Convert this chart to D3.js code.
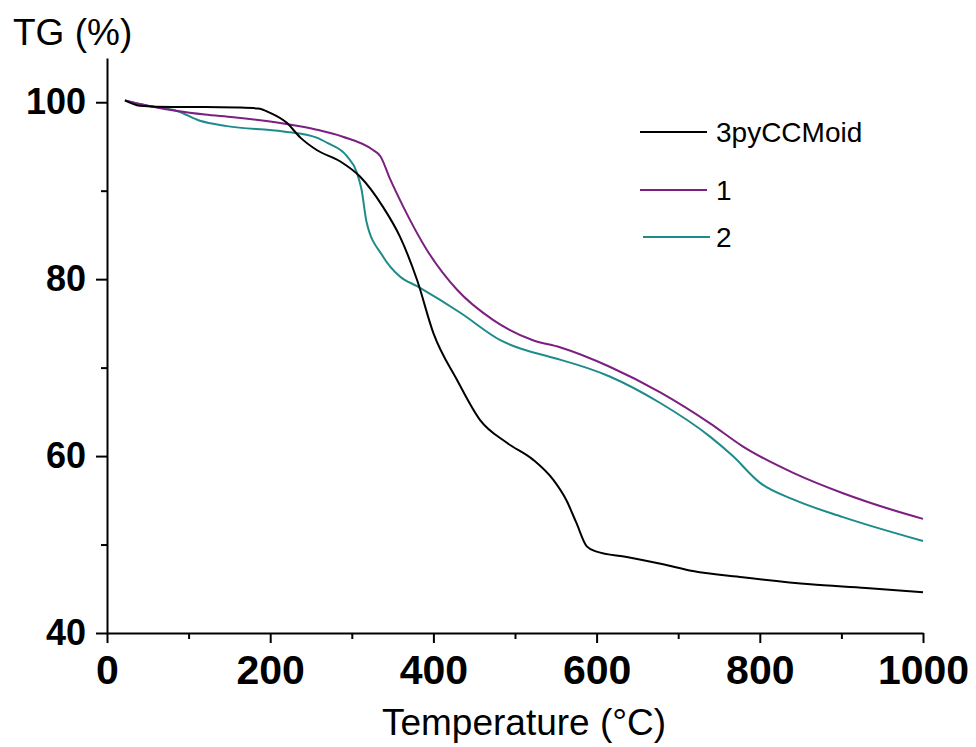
<!DOCTYPE html>
<html>
<head>
<meta charset="utf-8">
<script src="https://cdn.jsdelivr.net/npm/d3@7"></script>
<style>
  body { margin: 0; background: #fff; }
  svg text { font-family: Arial, "Liberation Sans", sans-serif; }
</style>
</head>
<body>
<div id="chart"></div>
<script>
// TG curves (temperature in C, mass in %)
const seriesNames = ["3pyCCMoid", "1", "2"];
const seriesColors = ["#000000", "#7b1f80", "#1e8b8b"];

const tempA = [22, 40, 80, 120, 160, 185, 200, 220, 237, 257, 286, 310, 338, 359, 380, 400, 429, 457, 490, 522, 547, 563, 575, 588, 600, 637, 680, 718, 779, 862, 930, 1000];
const tgA   = [100.2, 99.6, 99.45, 99.45, 99.4, 99.3, 98.8, 97.7, 96.0, 94.6, 93.3, 91.6, 88.2, 84.8, 79.9, 73.9, 68.6, 64.1, 61.5, 59.6, 57.3, 55.0, 52.5, 49.8, 49.2, 48.6, 47.8, 47.0, 46.3, 45.5, 45.1, 44.6];

const temp1 = [22, 50, 86, 120, 155, 216, 257, 289, 326, 335, 347, 363, 392, 429, 473, 522, 555, 616, 678, 739, 779, 841, 902, 963, 1000];
const tg1   = [100.2, 99.6, 99.0, 98.6, 98.3, 97.6, 96.9, 96.1, 94.6, 93.9, 91.3, 88.2, 83.3, 78.8, 75.4, 73.1, 72.3, 70.1, 67.2, 63.7, 61.1, 58.1, 55.8, 53.9, 52.9];

const temp2 = [22, 50, 86, 114, 147, 216, 257, 270, 294, 306, 312, 318, 338, 359, 380, 433, 482, 543, 555, 616, 678, 739, 767, 800, 841, 902, 1000];
const tg2   = [100.2, 99.6, 99.0, 97.9, 97.3, 96.7, 96.0, 95.4, 93.9, 92.1, 90.1, 86.5, 82.6, 80.3, 79.2, 76.2, 73.1, 71.2, 70.9, 69.0, 66.0, 62.2, 60.0, 57.0, 55.1, 53.1, 50.4];

const xMajor = [0, 200, 400, 600, 800, 1000];
const xMinor = [100, 300, 500, 700, 900];
const yMajor = [40, 60, 80, 100];
const yMinor = [50, 70, 90];

const svgWidth = 976, svgHeight = 747;
const margin = { top: 58, right: 53, bottom: 114, left: 107 };
const width = svgWidth - margin.left - margin.right;
const height = svgHeight - margin.top - margin.bottom;

const svg = d3.select("#chart").append("svg")
  .attr("width", svgWidth)
  .attr("height", svgHeight);

const chart = svg.append("g")
  .attr("transform", `translate(${margin.left}, ${margin.top})`);

const xScale = d3.scaleLinear().domain([0, 1000]).range([0, width]);
const yScale = d3.scaleLinear().domain([40, 105]).range([height, 0]);

// curves
const allSeries = [
  tempA.map((t, i) => [t, tgA[i]]),
  temp1.map((t, i) => [t, tg1[i]]),
  temp2.map((t, i) => [t, tg2[i]])
];

const line = d3.line()
  .x(d => xScale(d[0]))
  .y(d => yScale(d[1]))
  .curve(d3.curveMonotoneX);

// draw 2 then 1 then black, black on top
[2, 1, 0].forEach(k => {
  chart.append("path")
    .datum(allSeries[k])
    .attr("fill", "none")
    .attr("stroke", seriesColors[k])
    .attr("stroke-width", 2)
    .attr("stroke-linejoin", "round")
    .attr("d", line);
});

// x axis, major and minor ticks
const xAxisG = chart.append("g")
  .attr("transform", `translate(0, ${height})`)
  .call(d3.axisBottom(xScale).tickValues(xMajor).tickFormat(d3.format("d"))
    .tickSize(10).tickPadding(12).tickSizeOuter(0));
xAxisG.selectAll("text")
  .attr("font-size", 41)
  .attr("font-weight", "bold")
  .attr("fill", "#000");

chart.append("g")
  .attr("transform", `translate(0, ${height})`)
  .call(d3.axisBottom(xScale).tickValues(xMinor).tickSize(6).tickFormat(""))
  .select(".domain").remove();

// y axis
const yAxisG = chart.append("g")
  .call(d3.axisLeft(yScale).tickValues(yMajor).tickFormat(d3.format("d"))
    .tickSize(11).tickPadding(10).tickSizeOuter(0));
yAxisG.selectAll("text")
  .attr("font-size", 36)
  .attr("font-weight", "bold")
  .attr("fill", "#000");

chart.append("g")
  .call(d3.axisLeft(yScale).tickValues(yMinor).tickSize(6).tickFormat(""))
  .select(".domain").remove();

chart.selectAll(".domain, .tick line")
  .attr("stroke", "#000")
  .attr("stroke-width", 2);

// axis titles
svg.append("text")
  .attr("x", 13)
  .attr("y", 45)
  .attr("font-size", 37)
  .text("TG (%)");

svg.append("text")
  .attr("x", 524)
  .attr("y", 735)
  .attr("font-size", 37)
  .style("text-anchor", "middle")
  .text("Temperature (°C)");

// legend
const legendY = [132, 190, 237];
const legendX = [640, 640, 643];
const legend = svg.append("g");
seriesNames.forEach((name, i) => {
  legend.append("line")
    .attr("x1", legendX[i])
    .attr("x2", legendX[i] + 67)
    .attr("y1", legendY[i])
    .attr("y2", legendY[i])
    .attr("stroke", seriesColors[i])
    .attr("stroke-width", 2);
  legend.append("text")
    .attr("x", 716)
    .attr("y", legendY[i])
    .attr("dy", "0.35em")
    .attr("font-size", 28)
    .text(name);
});
</script>
</body>
</html>
